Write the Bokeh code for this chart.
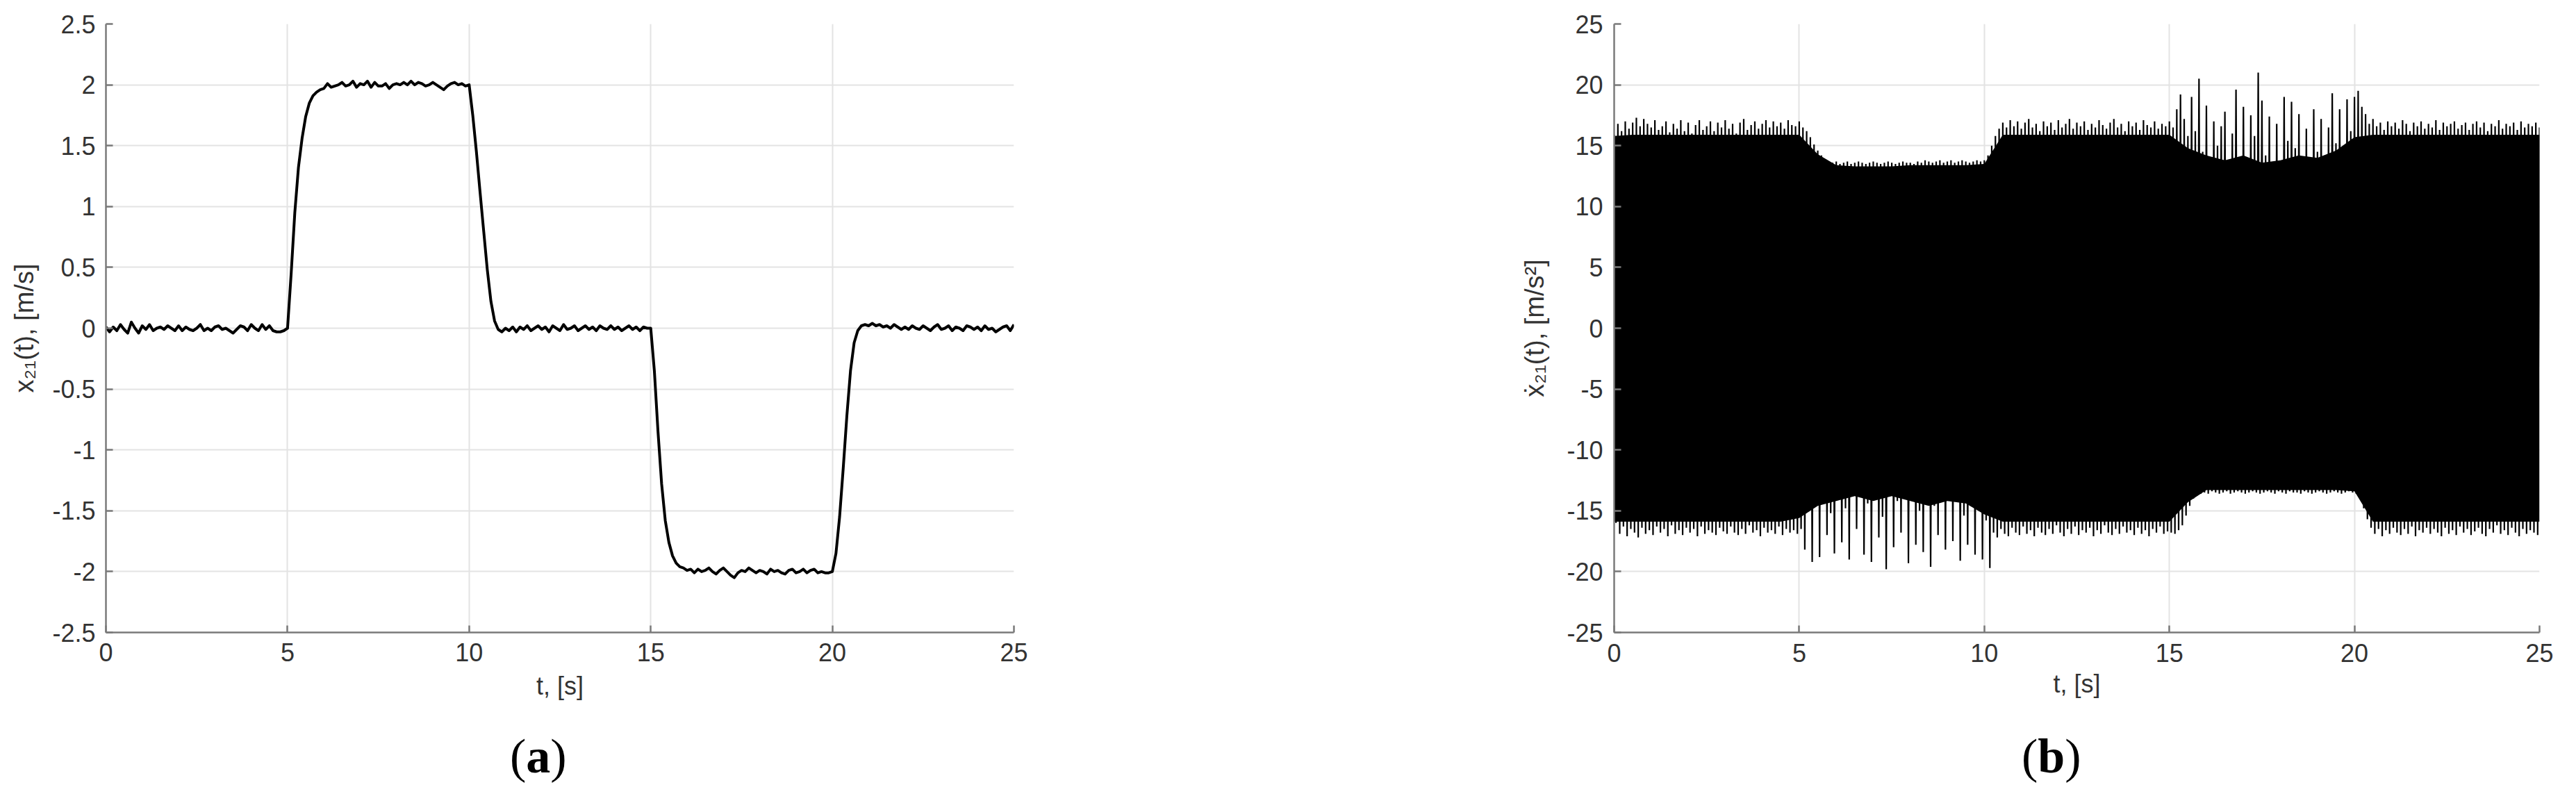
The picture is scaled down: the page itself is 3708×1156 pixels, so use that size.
import numpy as np
from bokeh.plotting import figure
from bokeh.layouts import row, column
from bokeh.models import Div
from bokeh.embed import file_html
from bokeh.resources import INLINE

# ---------------- data ----------------
x_ticks = [0, 5, 10, 15, 20, 25]
x_tick_labels = ["0", "5", "10", "15", "20", "25"]
ya_ticks = [-2.5, -2.0, -1.5, -1.0, -0.5, 0.0, 0.5, 1.0, 1.5, 2.0, 2.5]
ya_tick_labels = ["-2.5", "-2", "-1.5", "-1", "-0.5", "0", "0.5", "1", "1.5", "2", "2.5"]
yb_ticks = [-25, -20, -15, -10, -5, 0, 5, 10, 15, 20, 25]
yb_tick_labels = ["-25", "-20", "-15", "-10", "-5", "0", "5", "10", "15", "20", "25"]
captions = ["a", "b"]

# (a) velocity x21(t), sampled every 0.1 s
dt_a = 0.1
v_a = [
    0.01, -0.03, 0.01, -0.02, 0.03, -0.01, -0.04, 0.05, 0.00, -0.04,
    0.02, -0.01, 0.03, -0.02, 0.00, 0.01, -0.01, 0.02, 0.00, -0.02,
    0.02, -0.02, 0.01, -0.01, -0.02, 0.00, 0.03, -0.02, 0.00, -0.02,
    0.01, 0.02, -0.01, 0.00, -0.02, -0.04, -0.01, 0.02, 0.01, -0.02,
    0.03, 0.00, -0.02, 0.03, -0.01, 0.02, -0.02, -0.03, -0.03, -0.02,
    0.00, 0.45, 0.95, 1.32, 1.56, 1.74, 1.85, 1.91, 1.94, 1.96,
    1.97, 2.01, 1.98, 1.99, 2.00, 2.02, 1.99, 2.00, 2.03, 1.98,
    2.01, 2.00, 2.03, 1.98, 2.02, 1.99, 1.99, 2.01, 1.97, 2.00,
    2.01, 2.00, 2.02, 2.00, 2.03, 2.00, 2.02, 2.01, 1.99, 2.00,
    2.02, 2.00, 1.98, 1.96, 1.99, 2.01, 2.02, 2.00, 2.01, 1.99,
    2.00, 1.75, 1.45, 1.12, 0.80, 0.48, 0.22, 0.06, -0.01, -0.03,
    0.00, -0.02, 0.01, -0.03, 0.01, -0.01, 0.02, -0.02, 0.00, 0.02,
    -0.01, 0.01, -0.03, 0.02, 0.00, -0.02, 0.03, -0.01, 0.00, 0.02,
    -0.02, 0.00, 0.02, -0.01, 0.01, -0.02, 0.02, 0.00, -0.01, 0.02,
    -0.01, 0.01, -0.02, 0.00, 0.02, -0.01, 0.01, -0.02, 0.01, 0.00,
    0.00, -0.35, -0.85, -1.28, -1.58, -1.76, -1.87, -1.93, -1.96, -1.97,
    -1.99, -1.98, -2.01, -1.98, -2.00, -1.99, -1.97, -2.00, -2.02, -1.99,
    -1.97, -2.00, -2.03, -2.05, -2.01, -1.99, -2.00, -1.97, -1.99, -2.01,
    -1.99, -2.00, -2.02, -1.98, -2.00, -1.99, -2.01, -2.02, -1.99, -1.98,
    -2.01, -2.00, -1.98, -2.01, -1.99, -1.98, -2.01, -2.00, -2.01, -2.01,
    -2.00, -1.85, -1.55, -1.15, -0.72, -0.35, -0.12, -0.02, 0.02, 0.03,
    0.02, 0.04, 0.02, 0.03, 0.01, 0.02, 0.00, 0.03, 0.01, -0.01,
    0.01, -0.01, 0.02, 0.00, -0.01, 0.02, 0.00, -0.02, 0.01, 0.03,
    -0.01, 0.00, 0.02, -0.02, 0.01, 0.00, -0.02, 0.02, 0.01, -0.01,
    0.01, -0.02, 0.02, -0.01, 0.00, -0.03, -0.01, 0.01, 0.02, -0.02,
    0.03,
]

# (b) acceleration: oscillation peaks (upper / lower) every 0.1 s
dt_b = 0.1
peak_up = [
    15.9, 16.8, 16.2, 17.0, 16.4, 16.9, 17.3, 16.6, 17.2, 16.8,
    16.5, 17.1, 16.3, 16.6, 17.0, 16.1, 16.8, 16.4, 17.1, 16.2,
    16.9, 16.0, 16.7, 17.1, 16.3, 16.6, 17.0, 16.2, 16.9, 16.5,
    17.1, 16.4, 16.8, 16.0, 16.9, 17.2, 16.3, 16.7, 17.0, 16.4,
    16.8, 17.1, 16.5, 17.0, 16.6, 16.9, 16.4, 17.1, 16.7, 16.6,
    17.0, 16.5, 16.2, 15.7, 15.1, 14.6, 14.2, 13.9, 13.7, 13.6,
    13.7, 13.5, 13.6, 13.7, 13.5, 13.6, 13.7, 13.6, 13.5, 13.6,
    13.7, 13.6, 13.5, 13.6, 13.7, 13.6, 13.5, 13.6, 13.7, 13.6,
    13.6, 13.5, 13.7, 13.6, 13.8, 13.7, 13.6, 13.7, 13.8, 13.6,
    13.7, 13.8, 13.6, 13.7, 13.8, 13.7, 13.6, 13.7, 13.8, 13.7,
    13.8, 14.2, 15.0, 15.8, 16.4, 16.9, 16.5, 17.1, 16.6, 17.0,
    16.4, 16.9, 17.2, 16.5, 16.8, 16.2, 17.0, 16.6, 16.9, 16.3,
    17.1, 16.5, 16.8, 17.2, 16.4, 16.9, 16.6, 17.0, 16.3, 16.8,
    16.5, 17.1, 16.7, 16.4, 16.9, 17.2, 16.5, 16.8, 16.2, 17.0,
    16.6, 16.9, 16.3, 17.1, 16.7, 16.5, 17.0, 16.4, 16.8, 16.6,
    17.0, 16.5, 18.0, 19.2, 17.2, 15.8, 19.0, 16.2, 20.5, 14.5,
    18.3, 13.2, 17.0, 15.0, 16.6, 17.8, 12.8, 16.0, 19.6, 14.0,
    18.2, 13.5, 17.5, 15.8, 21.0, 18.7, 14.2, 17.4, 12.5, 16.8,
    13.6, 19.0, 15.4, 18.6, 14.8, 17.6, 12.8, 16.4, 13.2, 18.0,
    14.5, 17.2, 13.8, 16.5, 19.3, 15.2, 18.0, 14.1, 18.8, 16.2,
    19.0, 19.5, 18.2, 17.6, 16.8, 17.2, 16.6, 16.9, 16.3, 17.0,
    16.6, 16.9, 16.4, 17.1, 16.8, 16.2, 16.9, 16.6, 17.0, 16.4,
    16.8, 16.5, 17.1, 16.3, 16.9, 16.6, 16.8, 17.0, 16.4, 16.7,
    16.9, 16.3, 16.8, 17.0, 16.5, 16.9, 16.2, 16.8, 16.6, 17.1,
    16.4, 16.8, 16.6, 16.9, 16.3, 17.0, 16.5, 16.8, 16.6, 16.9,
    16.5,
]
peak_lo = [
    -16.0, -16.9, -16.3, -17.1, -16.5, -16.8, -17.2, -16.4, -16.9, -16.6,
    -17.0, -16.3, -16.8, -16.5, -17.1, -16.2, -16.9, -16.6, -17.0, -16.4,
    -16.8, -16.5, -17.1, -16.3, -16.9, -16.6, -16.8, -17.0, -16.4, -16.7,
    -16.9, -16.3, -16.8, -17.0, -16.5, -16.9, -16.2, -16.8, -16.6, -17.1,
    -16.4, -16.8, -16.6, -16.9, -16.3, -17.0, -16.5, -16.8, -16.6, -16.9,
    -16.5, -18.2, -14.0, -19.2, -13.5, -18.8, -12.8, -17.0, -15.2, -18.5,
    -12.5, -17.6, -14.8, -19.0, -13.2, -16.5, -11.8, -18.6, -14.4, -19.2,
    -13.0, -17.2, -15.5, -19.8, -12.6, -18.0, -14.2, -16.8, -13.8, -19.3,
    -12.2, -17.8, -15.0, -18.4, -13.5, -19.6, -14.6, -17.0, -12.9, -18.2,
    -14.0, -17.5, -13.2, -19.1, -15.4, -17.8, -12.7, -18.6, -14.5, -19.0,
    -15.8, -19.7, -16.8, -17.2, -16.5, -16.9, -17.1, -16.4, -16.8, -17.0,
    -16.3, -16.9, -16.6, -17.1, -16.4, -16.8, -17.0, -16.5, -16.9, -16.2,
    -16.8, -17.1, -16.5, -16.9, -16.3, -17.0, -16.6, -16.8, -16.4, -17.1,
    -16.6, -16.9, -16.2, -16.8, -17.0, -16.5, -16.9, -16.3, -16.8, -16.6,
    -17.0, -16.4, -16.9, -16.6, -17.1, -16.5, -16.8, -16.3, -16.9, -16.7,
    -16.8, -16.9, -16.6, -16.2, -15.4, -14.6, -14.0, -13.7, -13.6, -13.5,
    -13.6, -13.4, -13.5, -13.6, -13.5, -13.4, -13.6, -13.5, -13.4, -13.5,
    -13.6, -13.5, -13.4, -13.5, -13.6, -13.5, -13.4, -13.5, -13.6, -13.4,
    -13.5, -13.6, -13.4, -13.5, -13.5, -13.6, -13.4, -13.5, -13.6, -13.5,
    -13.4, -13.5, -13.6, -13.5, -13.4, -13.5, -13.6, -13.5, -13.4, -13.5,
    -13.6, -14.0, -14.8, -15.7, -16.4, -16.9, -16.5, -17.1, -16.6, -16.9,
    -16.4, -16.8, -17.0, -16.5, -16.9, -16.3, -17.1, -16.6, -16.8, -16.4,
    -16.9, -16.5, -16.8, -17.1, -16.4, -16.9, -16.6, -17.0, -16.3, -16.8,
    -16.5, -17.0, -16.7, -16.4, -16.9, -17.1, -16.5, -16.8, -16.2, -16.9,
    -16.6, -17.0, -16.4, -16.8, -17.1, -16.5, -16.9, -16.6, -16.8, -17.0,
    -16.6,
]
# dense (solid black) band of the oscillation, every 0.5 s
dt_core = 0.5
core_up = [
    15.8, 15.9, 15.9, 15.9, 15.9, 15.9, 15.9, 15.9, 15.9, 15.9,
    15.9, 14.3, 13.4, 13.3, 13.3, 13.3, 13.4, 13.4, 13.4, 13.4,
    13.5, 15.9, 15.9, 15.9, 15.9, 15.9, 15.9, 15.9, 15.9, 15.9,
    15.9, 14.8, 14.2, 13.8, 14.2, 13.6, 13.8, 14.2, 14.0, 14.6,
    15.7, 15.9, 15.9, 15.9, 15.9, 15.9, 15.9, 15.9, 15.9, 15.9,
    15.9,
]
core_lo = [
    -15.9, -15.9, -15.9, -15.9, -15.9, -15.9, -15.9, -15.9, -15.9, -15.9,
    -15.6, -14.6, -14.2, -13.8, -14.2, -13.8, -14.2, -14.6, -14.2, -14.4,
    -15.3, -15.9, -15.9, -15.9, -15.9, -15.9, -15.9, -15.9, -15.9, -15.9,
    -15.9, -14.3, -13.3, -13.3, -13.3, -13.3, -13.3, -13.3, -13.3, -13.3,
    -13.4, -15.9, -15.9, -15.9, -15.9, -15.9, -15.9, -15.9, -15.9, -15.9,
    -15.9,
]

# ---------------- helpers ----------------
FONT = "Liberation Sans"
TXT = "#333333"
AX = "#7a7a7a"
GRID = "#e3e3e3"


def style(p, yt, yl, y_label, lab_std_y, lab_std_x, ax_std_y, ax_std_x):
    p.outline_line_color = None
    p.background_fill_color = "white"
    p.border_fill_color = "white"
    p.xaxis.ticker = x_ticks
    p.yaxis.ticker = yt
    p.xgrid.ticker = x_ticks
    p.ygrid.ticker = yt
    p.xaxis.major_label_overrides = dict(zip(x_ticks, x_tick_labels))
    p.yaxis.major_label_overrides = dict(zip(yt, yl))
    for g in (p.xgrid, p.ygrid):
        g.grid_line_color = GRID
        g.grid_line_width = 2
    for ax in (p.xaxis, p.yaxis):
        ax.axis_line_color = AX
        ax.axis_line_width = 2.5
        ax.major_tick_line_color = AX
        ax.major_tick_line_width = 2.5
        ax.major_tick_in = 10
        ax.major_tick_out = 0
        ax.minor_tick_line_color = None
        ax.major_label_text_font = FONT
        ax.major_label_text_font_size = "36px"
        ax.major_label_text_color = TXT
        ax.axis_label_text_font = FONT
        ax.axis_label_text_font_size = "38px"
        ax.axis_label_text_font_style = "normal"
        ax.axis_label_text_color = TXT
    p.xaxis.axis_label = "t, [s]"
    p.xaxis.axis_label_text_font_size = "36px"
    p.yaxis.axis_label = y_label
    p.yaxis.major_label_standoff = lab_std_y
    p.xaxis.major_label_standoff = lab_std_x
    p.yaxis.axis_label_standoff = ax_std_y
    p.xaxis.axis_label_standoff = ax_std_x


FIG_H = 1054

# ---------------- (a) ----------------
t_a = np.round(np.arange(len(v_a)) * dt_a, 3)
pa = figure(width=1850, height=FIG_H, x_range=(0, 25), y_range=(-2.5, 2.5),
            output_backend="svg", toolbar_location=None,
            min_border_left=152, min_border_right=391,
            min_border_top=34, min_border_bottom=FIG_H - 34 - 876)
style(pa, ya_ticks, ya_tick_labels, "x\u2082\u2081(t), [m/s]", 15, 15, 16, 12)
pa.line(t_a, v_a, line_color="black", line_width=4, line_join="round")

# ---------------- (b) ----------------
t_up = np.round(np.arange(len(peak_up)) * dt_b, 3)
t_lo = t_up + dt_b / 2
xs = np.empty(2 * len(t_up))
ys = np.empty(2 * len(t_up))
xs[0::2] = t_up
xs[1::2] = t_lo
ys[0::2] = peak_up
ys[1::2] = peak_lo
t_core = np.round(np.arange(len(core_up)) * dt_core, 3)

pb = figure(width=1842, height=FIG_H, x_range=(0, 25), y_range=(-25, 25),
            output_backend="svg", toolbar_location=None,
            min_border_left=473, min_border_right=37,
            min_border_top=30, min_border_bottom=FIG_H - 30 - 892)
style(pb, yb_ticks, yb_tick_labels, "\u1e8b\u2082\u2081(t), [m/s\u00b2]", 16, 16, 22, 8)
pb.varea(x=t_core, y1=core_lo, y2=core_up, fill_color="black")
pb.line(xs, ys, line_color="black", line_width=2.2)

# ---------------- captions ----------------
cap_html = (
    '<div style="position:relative;width:3692px;height:80px;'
    "font-family:'Liberation Serif',serif;font-size:70px;line-height:70px;color:#000;\">"
    '<span style="position:absolute;left:734px;top:0px;">(<b>%s</b>)</span>'
    '<span style="position:absolute;left:2910px;top:0px;">(<b>%s</b>)</span>'
    '</div>' % (captions[0], captions[1])
)
cap = Div(text=cap_html, width=3692, height=80, margin=(0, 0, 0, 0))

layout = column(row(pa, pb, spacing=0), cap, spacing=0)
open("out.html", "w").write(file_html(layout, INLINE))
